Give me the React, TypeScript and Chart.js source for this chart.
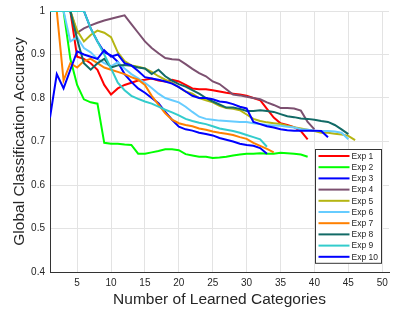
import React, { useEffect, useRef } from 'react';
import { Chart, registerables } from 'chart.js';

Chart.register(...registerables);

const seriesLabels = ['Exp 1', 'Exp 2', 'Exp 3', 'Exp 4', 'Exp 5', 'Exp 6', 'Exp 7', 'Exp 8', 'Exp 9', 'Exp 10'];
const seriesColors = ['#ff0000', '#00ff00', '#0000ff', '#7c5070', '#b5b512', '#66ccff', '#ff8000', '#126a66', '#33cccc', '#0000ff'];

const exp1 = [1, 1, 1, 1, 0.895, 0.89, 0.88, 0.865, 0.83, 0.808, 0.822, 0.83, 0.835, 0.84, 0.842, 0.845, 0.84, 0.838, 0.842, 0.838, 0.83, 0.822, 0.82, 0.82, 0.818, 0.815, 0.812, 0.81, 0.808, 0.805, 0.8, 0.795, 0.775, 0.755, 0.742, 0.738, 0.733, 0.724, 0.705];
const exp2 = [1, 1, 1, 0.89, 0.83, 0.797, 0.79, 0.787, 0.697, 0.695, 0.695, 0.693, 0.692, 0.672, 0.672, 0.675, 0.678, 0.682, 0.682, 0.68, 0.671, 0.668, 0.665, 0.665, 0.662, 0.663, 0.665, 0.668, 0.67, 0.672, 0.672, 0.673, 0.672, 0.672, 0.674, 0.673, 0.672, 0.67, 0.665];
const exp3 = [1, 1, 1, 1, 1, 1, 0.96, 0.93, 0.905, 0.898, 0.883, 0.855, 0.837, 0.822, 0.812, 0.8, 0.788, 0.768, 0.75, 0.734, 0.728, 0.725, 0.72, 0.717, 0.714, 0.708, 0.704, 0.7, 0.695, 0.692, 0.69, 0.685, 0.672];
const exp4 = [1, 1, 1, 1, 0.95, 0.96, 0.967, 0.973, 0.978, 0.982, 0.986, 0.99, 0.97, 0.95, 0.93, 0.915, 0.903, 0.892, 0.889, 0.888, 0.878, 0.867, 0.857, 0.85, 0.838, 0.832, 0.82, 0.808, 0.806, 0.803, 0.8, 0.797, 0.79, 0.784, 0.777, 0.777, 0.776, 0.771, 0.745, 0.728];
const exp5 = [1, 1, 1, 1, 0.955, 0.93, 0.945, 0.955, 0.95, 0.94, 0.905, 0.885, 0.875, 0.872, 0.868, 0.86, 0.85, 0.842, 0.835, 0.825, 0.815, 0.81, 0.8, 0.795, 0.79, 0.782, 0.777, 0.775, 0.772, 0.762, 0.752, 0.747, 0.744, 0.742, 0.74, 0.736, 0.733, 0.73, 0.727, 0.724, 0.72, 0.72, 0.718, 0.716, 0.713, 0.703];
const exp6 = [1, 1, 1, 0.93, 0.94, 0.915, 0.905, 0.89, 0.88, 0.873, 0.882, 0.868, 0.855, 0.845, 0.835, 0.823, 0.81, 0.8, 0.795, 0.79, 0.78, 0.768, 0.757, 0.752, 0.75, 0.748, 0.747, 0.746, 0.745, 0.745, 0.742, 0.74, 0.738, 0.737, 0.736, 0.734, 0.732, 0.728, 0.727, 0.725, 0.724, 0.724, 0.723, 0.72, 0.705];
const exp7 = [1, 1, 0.84, 0.88, 0.87, 0.885, 0.89, 0.88, 0.87, 0.865, 0.86, 0.855, 0.848, 0.842, 0.83, 0.805, 0.785, 0.765, 0.75, 0.742, 0.738, 0.735, 0.73, 0.727, 0.723, 0.72, 0.718, 0.715, 0.71, 0.706, 0.697, 0.69, 0.683, 0.675];
const exp8 = [1, 1, 1, 1, 0.935, 0.88, 0.865, 0.88, 0.89, 0.87, 0.875, 0.876, 0.874, 0.87, 0.868, 0.855, 0.865, 0.85, 0.84, 0.832, 0.826, 0.818, 0.81, 0.8, 0.792, 0.785, 0.778, 0.778, 0.775, 0.77, 0.77, 0.772, 0.77, 0.768, 0.763, 0.758, 0.756, 0.753, 0.752, 0.75, 0.747, 0.745, 0.738, 0.728, 0.717];
const exp9 = [1, 1, 1, 1, 1, 1, 0.96, 0.93, 0.9, 0.868, 0.835, 0.818, 0.805, 0.798, 0.792, 0.787, 0.78, 0.773, 0.767, 0.76, 0.752, 0.747, 0.743, 0.74, 0.735, 0.73, 0.727, 0.724, 0.72, 0.715, 0.71, 0.705, 0.688];
const exp10 = [0.755, 0.855, 0.822, 0.865, 0.907, 0.9, 0.895, 0.89, 0.91, 0.895, 0.9, 0.88, 0.875, 0.862, 0.848, 0.845, 0.842, 0.838, 0.833, 0.825, 0.815, 0.805, 0.8, 0.8, 0.797, 0.792, 0.79, 0.786, 0.78, 0.776, 0.745, 0.74, 0.735, 0.732, 0.728, 0.726, 0.725, 0.725, 0.725, 0.725, 0.724, 0.71];

const allSeries = [exp1, exp2, exp3, exp4, exp5, exp6, exp7, exp8, exp9, exp10];

const xTickValues = [5, 10, 15, 20, 25, 30, 35, 40, 45, 50];
const yTickValues = [0.4, 0.5, 0.6, 0.7, 0.8, 0.9, 1];
const xMin = 1;
const xMax = 51;
const yMin = 0.4;
const yMax = 1;

const FONT = "'Liberation Sans', Arial, Helvetica, sans-serif";
const TEXT = '#262626';

const boxLegend = {
  id: 'boxLegend',
  afterDraw(chart: any) {
    const ctx = chart.ctx;
    const area = chart.chartArea;
    const ds = chart.data.datasets;
    const w = 66;
    const rowH = 11.2;
    const h = rowH * (ds.length - 1) + 13;
    const left = Math.round(area.right - 8 - w) + 0.5;
    const top = Math.round(area.bottom - 9 - h) + 0.5;
    ctx.save();
    ctx.fillStyle = '#ffffff';
    ctx.fillRect(left, top, w, h);
    ctx.strokeStyle = '#333333';
    ctx.lineWidth = 1;
    ctx.strokeRect(left, top, w, h);
    ctx.font = `8.5px ${FONT}`;
    ctx.textBaseline = 'middle';
    ctx.textAlign = 'left';
    ds.forEach((d: any, i: number) => {
      const y = top + 6.5 + i * rowH;
      ctx.strokeStyle = d.borderColor;
      ctx.lineWidth = 2;
      ctx.beginPath();
      ctx.moveTo(left + 3, y);
      ctx.lineTo(left + 34, y);
      ctx.stroke();
      ctx.fillStyle = TEXT;
      ctx.fillText(d.label, left + 36, y + 0.5);
    });
    ctx.restore();
  },
};

export default function App() {
  const canvasRef = useRef<HTMLCanvasElement | null>(null);

  useEffect(() => {
    const canvas = canvasRef.current;
    if (!canvas) return;
    const datasets = allSeries.map((vals, i) => ({
      label: seriesLabels[i],
      data: vals.map((v, j) => ({ x: j + 1, y: v })),
      borderColor: seriesColors[i],
      backgroundColor: seriesColors[i],
      borderWidth: 2,
      pointRadius: 0,
      tension: 0,
      fill: false,
      order: allSeries.length - i,
    }));
    const chart = new Chart(canvas, {
      type: 'line',
      data: { datasets },
      plugins: [boxLegend],
      options: {
        responsive: false,
        animation: false,
        devicePixelRatio: 1,
        layout: { padding: { left: 0, top: 9, right: 21, bottom: 0 } },
        plugins: {
          legend: { display: false },
          tooltip: { enabled: false },
        },
        scales: {
          x: {
            type: 'linear',
            min: xMin,
            max: xMax,
            afterBuildTicks: (scale: any) => {
              scale.ticks = xTickValues.map((v) => ({ value: v }));
            },
            afterFit: (scale: any) => {
              scale.height = 39;
            },
            grid: { color: '#e3e3e3', lineWidth: 1, drawTicks: false },
            border: { display: true, color: '#333333', width: 1 },
            ticks: {
              padding: 5,
              color: TEXT,
              font: { family: FONT, size: 10 },
              maxRotation: 0,
              callback: (v: any) => String(v),
            },
            title: {
              display: true,
              text: 'Number of Learned Categories',
              color: TEXT,
              font: { family: FONT, size: 15.5 },
              padding: { top: 0, bottom: 2 },
            },
          },
          y: {
            type: 'linear',
            min: yMin,
            max: yMax,
            afterBuildTicks: (scale: any) => {
              scale.ticks = yTickValues.map((v) => ({ value: v }));
            },
            afterFit: (scale: any) => {
              scale.width = 50;
            },
            grid: { color: '#e3e3e3', lineWidth: 1, drawTicks: false },
            border: { display: true, color: '#333333', width: 1 },
            ticks: {
              padding: 5,
              color: TEXT,
              font: { family: FONT, size: 10 },
              callback: (v: any) => (Math.abs(v - 1) < 1e-9 ? '1' : Number(v).toFixed(1)),
            },
            title: {
              display: true,
              text: 'Global Classification Accuracy',
              color: TEXT,
              font: { family: FONT, size: 15.5 },
              padding: { top: 10, bottom: 0 },
            },
          },
        },
      },
    } as any);
    return () => {
      chart.destroy();
    };
  }, []);

  return (
    <div style={{ position: 'absolute', left: 0, top: 0, width: 410, height: 311, background: '#ffffff' }}>
      <canvas ref={canvasRef} width={410} height={311} style={{ display: 'block' }} />
    </div>
  );
}
